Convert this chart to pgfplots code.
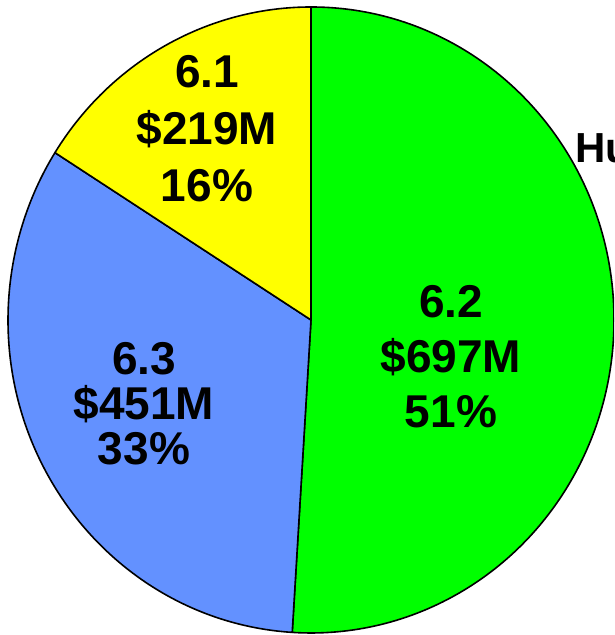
\documentclass[border=0pt]{standalone}
\usepackage{pgfplots}
\pgfplotsset{compat=1.18}
\usepackage{fontspec}
\setmainfont{Liberation Sans}
\definecolor{sliceA}{RGB}{0,255,0}
\definecolor{sliceB}{RGB}{99,145,255}
\definecolor{sliceC}{RGB}{255,255,0}
% values ($M)
\def\vA{697}% 6.2
\def\vB{451}% 6.3
\def\vC{219}% 6.1
\begin{document}
\begin{tikzpicture}
\pgfmathsetmacro{\tot}{\vA+\vB+\vC}
\pgfmathsetmacro{\aA}{90}
\pgfmathsetmacro{\aB}{90-360*(\vA/\tot)}
\pgfmathsetmacro{\aC}{\aB-360*(\vB/\tot)}
\pgfmathsetmacro{\aD}{\aC-360*(\vC/\tot)}
\path[use as bounding box] (0,0) rectangle (307pt,317.5pt);
\clip (0,0) rectangle (307pt,317.5pt);
\begin{axis}[hide axis, x=1pt, y=1pt, scale only axis,
  xmin=-155.5, xmax=151.5, ymin=-157.5, ymax=160,
  anchor=south west, at={(0pt,0pt)}, clip=false]
\def\rx{151.5}
\def\ry{156.5}
\filldraw[fill=sliceA, draw=black, line width=0.8pt, line join=round]
  (axis cs:0,0) -- (axis cs:{\rx*cos(\aA)},{\ry*sin(\aA)})
  arc[start angle=\aA, end angle=\aB, x radius=\rx pt, y radius=\ry pt] -- cycle;
\filldraw[fill=sliceB, draw=black, line width=0.8pt, line join=round]
  (axis cs:0,0) -- (axis cs:{\rx*cos(\aB)},{\ry*sin(\aB)})
  arc[start angle=\aB, end angle=\aC, x radius=\rx pt, y radius=\ry pt] -- cycle;
\filldraw[fill=sliceC, draw=black, line width=0.8pt, line join=round]
  (axis cs:0,0) -- (axis cs:{\rx*cos(\aC)},{\ry*sin(\aC)})
  arc[start angle=\aC, end angle=\aD, x radius=\rx pt, y radius=\ry pt] -- cycle;
\node[align=center, font=\bfseries\fontsize{23}{27.5}\selectfont] at (axis cs:70,-18.5) {6.2\\\$697M\\51\%};
\node[align=center, font=\bfseries\fontsize{23}{22.5}\selectfont] at (axis cs:-83.5,-42) {6.3\\\$451M\\33\%};
\node[align=center, font=\bfseries\fontsize{23}{28.5}\selectfont] at (axis cs:-52,95.5) {6.1\\\$219M\\16\%};
\node[anchor=base west, inner sep=0pt, font=\bfseries\fontsize{21}{25}\selectfont] at (axis cs:132,78.5) {Hu};
\end{axis}
\end{tikzpicture}
\end{document}
